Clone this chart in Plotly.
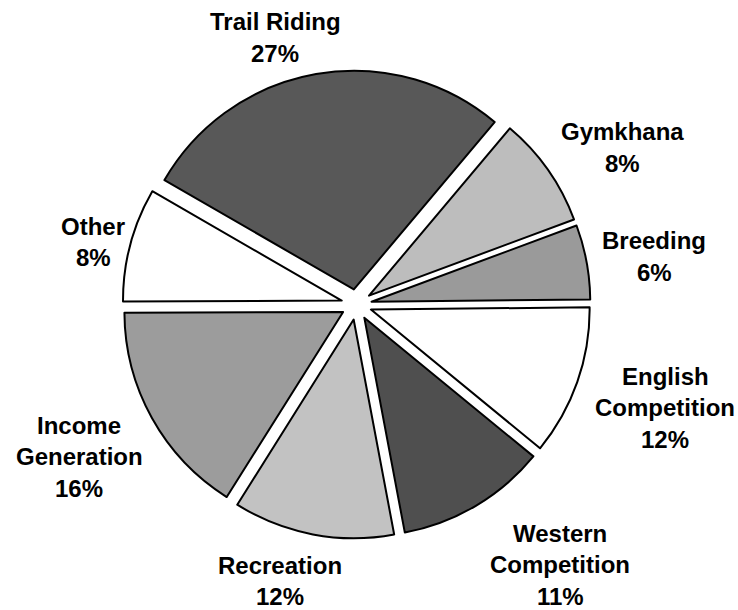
import plotly.graph_objects as go

# Data (clockwise from the Trail Riding slice)
categories = ["Trail Riding", "Gymkhana", "Breeding", "English Competition",
              "Western Competition", "Recreation", "Income Generation", "Other"]
# slice shares as drawn in the picture
values = [27.8, 8.2, 5.5, 11.1, 11.1, 11.9, 16.0, 8.4]
# percentages as printed on the chart
printed_pct = [27, 8, 6, 12, 11, 12, 16, 8]
label_lines = [["Trail Riding"], ["Gymkhana"], ["Breeding"], ["English", "Competition"],
               ["Western", "Competition"], ["Recreation"], ["Income", "Generation"], ["Other"]]

# Styling
colors = ["#585858", "#bdbdbd", "#9a9a9a", "#ffffff", "#4f4f4f", "#c2c2c2", "#9c9c9c", "#ffffff"]
# label block top-line centre (pixels in the 738x610 canvas)
label_pos = [(275, 21), (622, 131), (654, 240), (665, 375), (560, 532),
             (280, 564), (79, 424), (93, 225)]
LINE_PITCH = 31.5

W, H = 738, 610
cx, cy, R = 356.5, 304.5, 234   # pie domain centre and half-size in pixels

fig = go.Figure(go.Pie(
    labels=categories,
    values=values,
    sort=False,
    direction="clockwise",
    rotation=-60,
    pull=[0.07] * len(values),
    marker=dict(colors=colors, line=dict(color="#000000", width=2)),
    textinfo="none",
    hoverinfo="label",
    domain=dict(x=[(cx - R) / W, (cx + R) / W], y=[1 - (cy + R) / H, 1 - (cy - R) / H]),
    showlegend=False,
))

annotations = []
for lines, v, (px, py) in zip(label_lines, printed_pct, label_pos):
    for i, t in enumerate(lines + [f"{v}%"]):
        annotations.append(dict(
            x=px / W, y=1 - (py + i * LINE_PITCH + 1) / H, xref="paper", yref="paper",
            text=f"<b>{t}</b>", showarrow=False, xanchor="center", yanchor="middle",
            font=dict(family="Liberation Sans, Arial, sans-serif", size=24, color="#000000"),
        ))

fig.update_layout(
    width=W, height=H,
    margin=dict(l=0, r=0, t=0, b=0),
    paper_bgcolor="white",
    plot_bgcolor="white",
    annotations=annotations,
    font=dict(family="Liberation Sans, Arial, sans-serif"),
)

fig.write_html("out.html", config={"displayModeBar": False},
               post_script="document.body.style.margin='0';")
